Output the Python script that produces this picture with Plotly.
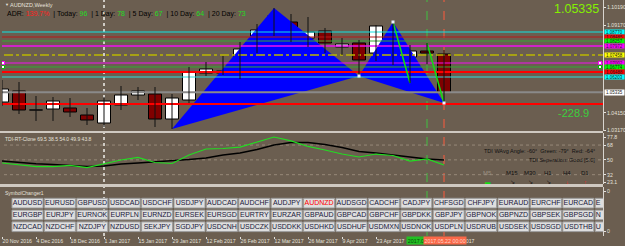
import plotly.graph_objects as go

# ---------------- data ----------------
chart_symbol = "AUDNZD"
chart_period = "Weekly"
date_ticks = ["20 Nov 2016", "4 Dec 2016", "18 Dec 2016", "1 Jan 2017", "15 Jan 2017",
              "29 Jan 2017", "12 Feb 2017", "26 Feb 2017", "12 Mar 2017", "26 Mar 2017",
              "9 Apr 2017", "23 Apr 2017", "", "21 May 2017"]
opens = [1.04777, 1.05404, 1.04315, 1.04378, 1.04435, 1.04035, 1.03579, 1.04606, 1.05176,
         1.05233, 1.03807, 1.04891, 1.06431, 1.06431, 1.06544, 1.07800, 1.08713, 1.09341,
         1.08428, 1.08828, 1.07915, 1.08143, 1.07572, 1.08656, 1.07344, 1.07686, 1.07515]
highs = [1.06032, 1.05918, 1.05119, 1.05062, 1.05005, 1.04435, 1.05062, 1.05690, 1.05632,
         1.05632, 1.05233, 1.06774, 1.07059, 1.07401, 1.08200, 1.09227, 1.10140, 1.09797,
         1.09626, 1.08999, 1.08428, 1.08314, 1.09170, 1.09341, 1.08029, 1.08143, 1.07744]
lows = [1.04549, 1.04092, 1.03694, 1.03694, 1.03921, 1.03465, 1.03351, 1.04321, 1.04891,
        1.03351, 1.03237, 1.04720, 1.06260, 1.06317, 1.06089, 1.07572, 1.08542, 1.08200,
        1.07915, 1.07572, 1.07458, 1.06260, 1.07116, 1.06888, 1.05861, 1.06945, 1.04720]
closes = [1.05519, 1.04321, 1.04327, 1.04834, 1.04207, 1.03750, 1.04834, 1.05176, 1.05404,
          1.03807, 1.05005, 1.06488, 1.06660, 1.06544, 1.07800, 1.08885, 1.09683, 1.08428,
          1.08770, 1.08143, 1.08086, 1.07173, 1.09113, 1.07002, 1.07686, 1.07572, 1.05335]

pattern_idx = [10, 16, 21, 23, 26]
pattern_price = [1.03237, 1.10140, 1.06260, 1.09341, 1.04720]
swing_idx = [23, 24, 25, 26]
swing_price = [1.09341, 1.05861, 1.08143, 1.04720]

level_prices = [1.08770, 1.08485, 1.08257, 1.07972, 1.07458, 1.07002, 1.06774, 1.06488, 1.06203, 1.04663]
price_ticks = [1.10190, 1.09170, 1.04150, 1.03170]

tdi_green = [46.2, 43.8, 41.9, 41.9, 43.2, 40.7, 45.0, 49.8, 52.9, 46.8, 45.6, 55.9, 63.2, 63.8,
             65.6, 71.7, 77.8, 73.0, 66.3, 62.0, 57.1, 53.5, 57.1, 55.3, 48.6, 51.1, 43.8]
tdi_signal = [48.6, 46.8, 45.2, 44.4, 43.2, 41.9, 42.5, 45.0, 46.2, 47.4, 49.2, 50.4, 52.3, 55.9,
              58.3, 62.6, 68.1, 71.1, 71.1, 68.7, 65.0, 60.2, 58.3, 55.9, 52.9, 51.1, 49.9]
tdi_levels = [68, 50, 32]
tdi_ticks = [77.8, 68, 50, 32, 23.1]
tdi_title_values = ["69.5", "38.5", "54.0", "49.9", "43.8"]
tdi_angles = {"WAvg": -60, "Green": -79, "Red": -64}
tdi_separation = "Good [5.0]"
timeframes = ["M5", "M15", "M30", "H1", "H4", "D1"]

adr_pct = "139.7%"
adr_values = [("Today", 96), ("1 Day", 78), ("5 Day", 67), ("10 Day", 64), ("20 Day", 73)]
pips_value = "-228.9"

symbol_rows = [
    ["AUDUSD", "EURUSD", "GBPUSD", "USDCAD", "USDCHF", "USDJPY", "AUDCAD", "AUDCHF", "AUDJPY", "AUDNZD",
     "AUDSGD", "CADCHF", "CADJPY", "CHFSGD", "CHFJPY", "EURAUD", "EURCHF", "EURCAD", "EURDKK"],
    ["EURGBP", "EURJPY", "EURNOK", "EURPLN", "EURNZD", "EURSEK", "EURSGD", "EURTRY", "EURZAR", "GBPAUD",
     "GBPCAD", "GBPCHF", "GBPDKK", "GBPJPY", "GBPNOK", "GBPNZD", "GBPSEK", "GBPSGD", "NOKJPY"],
    ["NZDCAD", "NZDCHF", "NZDJPY", "NZDUSD", "SEKJPY", "SGDJPY", "USDCNH", "USDCZK", "USDDKK", "USDHKD",
     "USDHUF", "USDMXN", "USDNOK", "USDPLN", "USDRUB", "USDSEK", "USDSGD", "USDTHB", "USDTRY"],
]
cursor_labels = ["2017.0", "2017.05.22 00:00"]

# ---------------- styling / layout helpers ----------------
W, H = 625, 246
L, R, T, B = 2, 22, 0, 10
PW, PH = W - L - R, H - T - B
PITCH = 17.0
BG = '#6b5e50'
LIGHT = '#e6e2dc'
FONT = 'Arial, Liberation Sans, sans-serif'


def px_x(px):
    return (px - L) / PW


def px_y(py):
    return 1 - (py - T) / PH


def xu(px):
    return (px - L) / PITCH


P_TOP, P_PER_PX = 1.10596, 0.0005705
MAIN_BOT = 131
V_TOP_PX, V_REF = 137, 77.8
IND_TOP, IND_BOT = 133, 184
SYM_TOP = 187

n = len(opens)
idx = list(range(n))
cur_price = closes[-1]

fig = go.Figure()

# harmonic pattern triangles
px_, py_ = pattern_idx, pattern_price
for a, b, c in [(0, 1, 2), (2, 3, 4)]:
    fig.add_trace(go.Scatter(x=[px_[a], px_[b], px_[c], px_[a]], y=[py_[a], py_[b], py_[c], py_[a]],
                             mode='lines', fill='toself', fillcolor='#0000ff',
                             line=dict(width=0, color='#0000ff'), hoverinfo='skip', showlegend=False))

# horizontal levels
lvl_colors = ['#10e4e4', '#b81818', '#34a834', '#f010f0', '#bcb800', '#f010f0', '#34a834', '#ff0000', '#30dcdc', '#ff0000']
lvl_widths = [1, 1, 1, 1.5, 1.4, 1, 1, 2, 1, 2]
lvl_dash = ['solid'] * 4 + ['dashdot'] + ['solid'] * 5
for p, c, w, d in zip(level_prices, lvl_colors, lvl_widths, lvl_dash):
    fig.add_trace(go.Scatter(x=[-2, 40], y=[p, p], mode='lines', line=dict(color=c, width=w, dash=d),
                             hoverinfo='skip', showlegend=False))
fig.add_trace(go.Scatter(x=[-2, 40], y=[cur_price, cur_price], mode='lines',
                         line=dict(color='#8a8a8a', width=2), hoverinfo='skip', showlegend=False))

# line end handles
for p, c in [(level_prices[5], '#ff00ff'), (level_prices[6], '#00c000')]:
    fig.add_trace(go.Scatter(x=[xu(3), xu(600)], y=[p, p], mode='markers',
                             marker=dict(symbol='square', size=3, color='white', line=dict(color=c, width=1)),
                             hoverinfo='skip', showlegend=False))

# swing (green) lines
sx, sy = [], []
for k in range(0, len(swing_idx), 2):
    sx += [swing_idx[k], swing_idx[k + 1], None]
    sy += [swing_price[k], swing_price[k + 1], None]
fig.add_trace(go.Scatter(x=sx, y=sy, mode='lines', line=dict(color='#10e010', width=1.5),
                         hoverinfo='skip', showlegend=False))

# wicks
wx, wy = [], []
for i in idx:
    wx += [i, i, None]
    wy += [lows[i], highs[i], None]
fig.add_trace(go.Scatter(x=wx, y=wy, mode='lines', line=dict(color='#111111', width=1),
                         hoverinfo='skip', showlegend=False))

# bodies
bases = [min(o, c) for o, c in zip(opens, closes)]
heights = [max(abs(c - o), 0.00012) for o, c in zip(opens, closes)]
cols = ['#ffffff' if c >= o else '#800000' for o, c in zip(opens, closes)]
fig.add_trace(go.Bar(x=idx, y=heights, base=bases, width=13 / PITCH,
                     marker=dict(color=cols, line=dict(color='#000000', width=1)),
                     hoverinfo='skip', showlegend=False))

# pattern point markers
fig.add_trace(go.Scatter(x=[pattern_idx[2], pattern_idx[3], pattern_idx[4]],
                         y=[pattern_price[2], pattern_price[3], pattern_price[4]], mode='markers',
                         marker=dict(symbol='square', size=3, color='#e8f0ff', line=dict(width=0)),
                         hoverinfo='skip', showlegend=False))

# ---------------- TDI panel ----------------
for lv in tdi_levels:
    fig.add_trace(go.Scatter(x=[-2, 40], y=[lv, lv], mode='lines', yaxis='y2',
                             line=dict(color='#978978', width=1, dash='dot'), hoverinfo='skip', showlegend=False))
fig.add_trace(go.Scatter(x=idx, y=tdi_signal, mode='lines', yaxis='y2', line=dict(color='#000000', width=1.4),
                         hoverinfo='skip', showlegend=False))
fig.add_trace(go.Scatter(x=idx, y=tdi_green, mode='lines', yaxis='y2', line=dict(color='#22dd22', width=1.2),
                         hoverinfo='skip', showlegend=False))

# ---------------- Symbol changer panel ----------------
shapes = []
for xi, col, dash, wdt in [(6, '#cfcbc4', 'dot', 2), (25, '#40c040', 'dash', 1), (26, '#ff5a3c', 'dash', 1)]:
    shapes.append(dict(type='line', xref='x', yref='paper', x0=xi, x1=xi, y0=0, y1=1,
                       line=dict(color=col, width=wdt, dash=dash), layer='below'))

RIGHT_EDGE = L + PW
tx, ty, tt, tc, tp = [], [], [], [], []
for r, row in enumerate(symbol_rows):
    y0 = 198.3 + 11.8 * r
    for k, s in enumerate(row):
        left = 12 + 32.4 * k
        shapes.append(dict(type='rect', xref='x', yref='y3', x0=xu(left), x1=xu(left + 31), y0=y0, y1=y0 + 9.7,
                           fillcolor='#dedede', line=dict(color='#9c9c9c', width=1), layer='below'))
        if left + 31 <= RIGHT_EDGE:
            tx.append(xu(left + 15.5))
            tt.append(s)
            tp.append('middle center')
        else:  # button cut by the price scale: only its first letter is visible
            tx.append(xu(left + 0.5))
            tt.append(s[0])
            tp.append('middle right')
        ty.append(y0 + 5.0)
        tc.append('#ff0000' if s == chart_symbol else '#18183a')
fig.add_trace(go.Scatter(x=tx, y=ty, text=tt, mode='text', yaxis='y3', textposition=tp,
                         textfont=dict(family=FONT, size=7, color=tc), hoverinfo='skip', showlegend=False))

for y_a, y_b in [(131, 133), (184, 187)]:
    shapes.append(dict(type='rect', xref='paper', yref='paper', x0=px_x(0), x1=1, y0=px_y(y_b), y1=px_y(y_a),
                       fillcolor='#cfc9c1', line=dict(width=0), layer='above'))

# ---------------- annotations ----------------
ann = []


def text(px, py, s, size, color, anchor='left', **kw):
    ann.append(dict(xref='paper', yref='paper', x=px_x(px), y=px_y(py), text=s, showarrow=False,
                    xanchor=anchor, yanchor='middle', font=dict(family=FONT, size=size, color=color), **kw))


text(2.5, 5, "▼", 4, LIGHT)
text(8, 5, f"{chart_symbol},{chart_period}", 5.5, LIGHT)

parts = [f"ADR: <span style='color:#ff1e1e'>{adr_pct}</span>"]
for lab, val in adr_values:
    parts.append(f"| {lab}: <span style='color:#22dd22'>{val}</span>")
text(5, 14.5, "&nbsp;&nbsp;".join(parts), 7, '#000000')

text(601, 9, f"{cur_price:.5f}", 12.5, '#84f000', anchor='right')
text(591, 113, pips_value, 11, '#3ccf3c', anchor='right')

lab_bg = ['#00ffff', '#ff0000', '#00ff00', '#ff00ff', '#ffff00', '#ff00ff', '#00ff00', '#ff0000', '#00ffff']
for p, bgc in zip(level_prices[:9], lab_bg):
    ann.append(dict(xref='paper', yref='y', x=1, y=p, xanchor='left', yanchor='middle', xshift=1,
                    text=f"{p:.5f}", showarrow=False, bgcolor=bgc, borderpad=0, width=19, height=4.4,
                    font=dict(family=FONT, size=4.5, color='#202020')))
ann.append(dict(xref='paper', yref='y', x=1, y=cur_price, xanchor='left', yanchor='middle', xshift=1,
                text=f"{cur_price:.5f}", showarrow=False, bgcolor='#ffffff', borderpad=0, width=19, height=4.6,
                font=dict(family=FONT, size=4.5, color='#202020')))

text(3, 139, "TDI-RT-Clone " + " ".join(tdi_title_values), 5, LIGHT)
text(597, 151, f"TDI WAvg Angle: {tdi_angles['WAvg']}°  Green: {tdi_angles['Green']}°  Red: {tdi_angles['Red']}°",
     5.5, '#101010', anchor='right')
text(597, 159.5, f"TDI Seperation: {tdi_separation}", 5.5, '#101010', anchor='right')
tf_x = [488, 512, 530, 548, 567, 585]
tf_sig = [("▬", '#10e010'), ("↘", '#101010'), ("↘", '#101010'), ("↘", '#101010'), ("↓", '#ff2020'), ("↑", '#ff2020')]
for t, xx, (sg, sc) in zip(timeframes, tf_x, tf_sig):
    text(xx, 173, t, 6, '#9c9184' if t == "M5" else '#101010', anchor='center')
    text(xx, 181.5, sg, 5.5, sc, anchor='center')

text(3, 192.5, "SymbolChanger1", 5, LIGHT)

ann.append(dict(xref='paper', yref='paper', x=px_x(406), y=px_y(240.5), xanchor='left', yanchor='middle',
                text=cursor_labels[0], showarrow=False, bgcolor='#22c022', borderpad=0.5, width=17,
                font=dict(family=FONT, size=5.3, color='#0a4a0a')))
ann.append(dict(xref='paper', yref='paper', x=px_x(423), y=px_y(240.5), xanchor='left', yanchor='middle',
                text=cursor_labels[1], showarrow=False, bgcolor='#fa6848', borderpad=0.5,
                font=dict(family=FONT, size=5.3, color='#ffd2c4')))

tick_font = dict(family=FONT, size=5.2, color=LIGHT)
fig.update_layout(
    width=W, height=H, margin=dict(l=L, r=R, t=T, b=B, pad=0),
    paper_bgcolor=BG, plot_bgcolor='rgba(0,0,0,0)', showlegend=False, barmode='overlay',
    xaxis=dict(domain=[0, 1], range=[0, PW / PITCH], anchor='y3', showgrid=False, zeroline=False,
               tickvals=list(range(0, n, 2)), ticktext=date_ticks, ticklabelposition='outside right',
               tickangle=0, ticks='outside', ticklen=2, tickcolor=LIGHT, tickfont=tick_font, showline=False,
               fixedrange=True),
    yaxis=dict(domain=[px_y(MAIN_BOT), 1], range=[P_TOP - P_PER_PX * MAIN_BOT, P_TOP], side='right', anchor='x',
               showgrid=False, zeroline=False, tickvals=price_ticks, ticktext=[f"{v:.5f}" for v in price_ticks],
               ticks='outside', ticklen=2, tickcolor=LIGHT, tickfont=tick_font,
               showline=True, linecolor='#d8d4ce', linewidth=1),
    yaxis2=dict(domain=[px_y(IND_BOT), px_y(IND_TOP)],
                range=[V_REF - (IND_BOT - V_TOP_PX) / 0.8226, V_REF + (V_TOP_PX - IND_TOP) / 0.8226],
                side='right', anchor='x', showgrid=False, zeroline=False, tickvals=tdi_ticks,
                ticktext=[str(v) for v in tdi_ticks], ticks='outside', ticklen=2, tickcolor=LIGHT,
                tickfont=tick_font, showline=True, linecolor='#d8d4ce', linewidth=1),
    yaxis3=dict(domain=[0, px_y(SYM_TOP)], range=[T + PH, SYM_TOP], side='right', anchor='x',
                showgrid=False, zeroline=False, tickvals=[191, 231], ticktext=['0', '0'], ticks='outside',
                ticklen=2, tickcolor=LIGHT, tickfont=tick_font, showline=True, linecolor='#d8d4ce', linewidth=1),
    shapes=shapes, annotations=ann,
)

fig.write_html("out.html")
